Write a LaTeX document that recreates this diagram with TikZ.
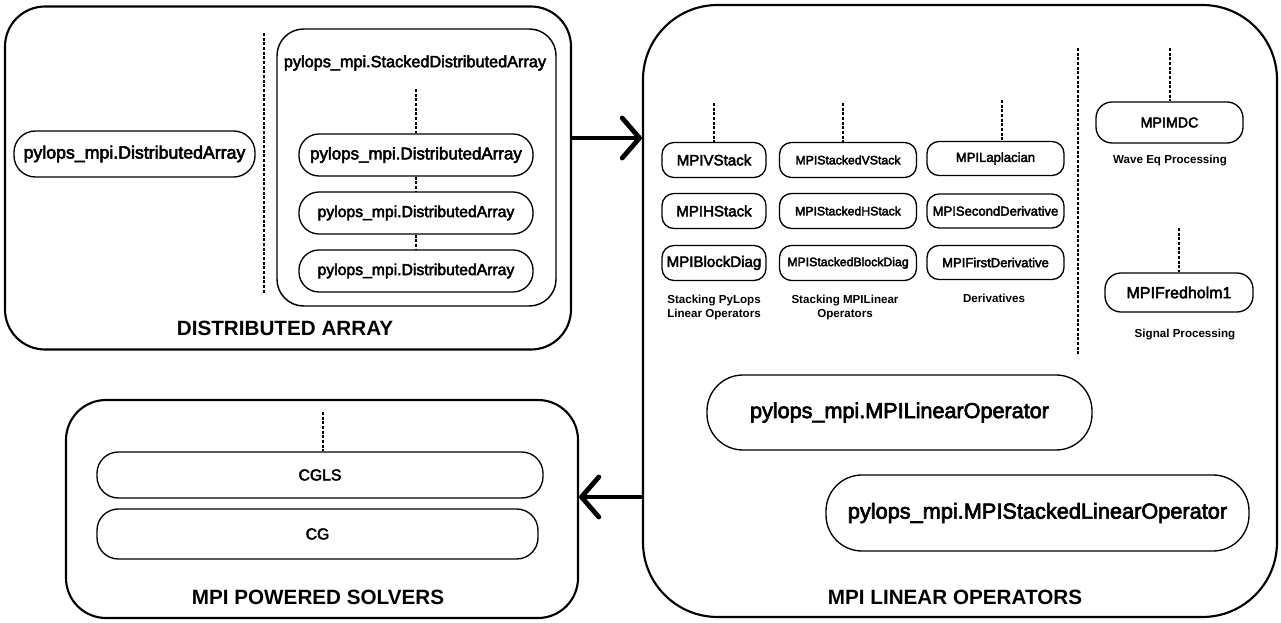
\documentclass[tikz,border=0pt]{standalone}
\usepackage{fontspec}
\setmainfont{Liberation Sans}
\newfontfamily\medfont[FakeBold=3]{Liberation Sans}
\usetikzlibrary{arrows.meta}

\newdimen\px \px=0.75pt
\newcommand\fsz[2]{\fontsize{#1pt}{#2pt}\selectfont}

\begin{document}
\begin{tikzpicture}[x=0.75pt, y=-0.75pt,
  panel/.style={draw, line width=1.6pt},
  pill/.style={draw, line width=1pt, inner sep=0pt},
  sepline/.style={line width=1.7pt, dash pattern=on 2.2pt off 1.3pt},
  flow/.style={line width=3.6pt, -{Straight Barb[length=13pt, width=30pt, round]}},
  title/.style={font={\fsz{15.5}{18}\bfseries}},
  caption/.style={font={\fsz{8.7}{10.5}\bfseries}, align=center}]

  \useasboundingbox (0,0) rectangle (1281,623);

  % the three panels
  \node[panel, rounded corners=30pt, minimum width=566\px, minimum height=343\px] (distarr) at (288,178) {};
  \node[panel, rounded corners=56pt, minimum width=634\px, minimum height=612\px] (linops) at (960,311) {};
  \node[panel, rounded corners=30pt, minimum width=512\px, minimum height=218\px] (solvers) at (322,509) {};

  % distributed array panel
  \node[pill, rounded corners=16pt, minimum width=241\px, minimum height=46\px,
        font={\medfont\fsz{13.3}{16}}] (da) at (134.5,154) {pylops\_mpi.DistributedArray};
  \draw[sepline] (264,33) -- (264,293);

  \draw[line width=1.1pt, rounded corners=20pt] (277,29) rectangle (556,306);
  \node[font={\medfont\fsz{12.2}{14}}] (sda) at (415,63) {pylops\_mpi.StackedDistributedArray};
  \coordinate (sdatop) at (416,89);
  \node[pill, rounded corners=15pt, minimum width=234\px, minimum height=42\px,
        font={\medfont\fsz{12.7}{15}}] (sda1) at (416,155) {pylops\_mpi.DistributedArray};
  \node[pill, rounded corners=15pt, minimum width=234\px, minimum height=42\px,
        font={\medfont\fsz{11.8}{14}}] (sda2) at (416,213) {pylops\_mpi.DistributedArray};
  \node[pill, rounded corners=15pt, minimum width=234\px, minimum height=42\px,
        font={\medfont\fsz{11.8}{14}}] (sda3) at (416,271) {pylops\_mpi.DistributedArray};
  \draw[sepline] (sdatop) -- (sda1.north);
  \draw[sepline] (sda1.south) -- (sda2.north);
  \draw[sepline] (sda2.south) -- (sda3.north);

  \node[title] (datitle) at (285,328) {DISTRIBUTED ARRAY};

  % linear operators panel, the three columns
  \foreach \nm/\yy/\txt in {vs/160/MPIVStack, hs/211/MPIHStack, bd/263/MPIBlockDiag}{
    \node[pill, rounded corners=9pt, minimum width=104\px, minimum height=35\px,
          font={\medfont\fsz{11.3}{13}}] (\nm) at (714,\yy) {\txt};
  }
  \foreach \nm/\yy/\txt in {svs/160/MPIStackedVStack, shs/211/MPIStackedHStack, sbd/263/MPIStackedBlockDiag}{
    \node[pill, rounded corners=9pt, minimum width=137\px, minimum height=35\px,
          font={\medfont\fsz{9.2}{11}}] (\nm) at (848,\yy) {\txt};
  }
  \foreach \nm/\yy/\txt in {lap/158.5/MPILaplacian, sder/211/MPISecondDerivative, fder/262.5/MPIFirstDerivative}{
    \node[pill, rounded corners=9pt, minimum width=137\px, minimum height=34\px,
          font={\medfont\fsz{9.8}{11}}] (\nm) at (995.5,\yy) {\txt};
  }
  \coordinate (vstop) at (714,103);
  \coordinate (svstop) at (843,103);
  \coordinate (laptop) at (1002,100);
  \draw[sepline] (vstop) -- (vs.north);
  \draw[sepline] (svstop) -- (svstop |- svs.north);
  \draw[sepline] (laptop) -- (laptop |- lap.north);

  \node[caption] (cap1) at (714,308) {Stacking PyLops\\Linear Operators};
  \node[caption] (cap2) at (845,308) {Stacking MPILinear\\Operators};
  \node[caption] (cap3) at (994,298) {Derivatives};

  \draw[sepline] (1078,48) -- (1078,355);

  % special operators
  \node[pill, rounded corners=12pt, minimum width=147\px, minimum height=41\px,
        font={\medfont\fsz{10.7}{13}}] (mdc) at (1169.5,122.5) {MPIMDC};
  \node[pill, rounded corners=12pt, minimum width=148\px, minimum height=39\px,
        font={\medfont\fsz{12}{14}}] (fred) at (1179,292.5) {MPIFredholm1};
  \coordinate (mdctop) at (1170,48);
  \coordinate (fredtop) at (1179,228);
  \draw[sepline] (mdctop) -- (mdctop |- mdc.north);
  \draw[sepline] (fredtop) -- (fredtop |- fred.north);
  \node[caption] (cap4) at (1170,161) {Wave Eq Processing};
  \node[caption] (cap5) at (1185,335) {Signal Processing};

  % base classes
  \node[pill, rounded corners=27pt, minimum width=385\px, minimum height=75\px,
        font={\medfont\fsz{16.2}{19}}] (linop) at (899.5,412.5) {pylops\_mpi.MPILinearOperator};
  \node[pill, rounded corners=27pt, minimum width=423\px, minimum height=76\px,
        font={\medfont\fsz{16.3}{19}}] (slinop) at (1037.5,513) {pylops\_mpi.MPIStackedLinearOperator};

  \node[title] (lotitle) at (955,597) {MPI LINEAR OPERATORS};

  % solvers panel
  \node[pill, rounded corners=16pt, minimum width=446\px, minimum height=46\px,
        font={\medfont\fsz{11.8}{14}}] (cgls) at (320,475) {CGLS};
  \node[pill, rounded corners=16pt, minimum width=441\px, minimum height=50\px,
        font={\medfont\fsz{11.8}{14}}] (cg) at (317.5,534) {CG};
  \coordinate (cglstop) at (323,412);
  \draw[sepline] (cglstop) -- (cglstop |- cgls.north);

  \node[title] (sotitle) at (318,597) {MPI POWERED SOLVERS};

  % flow between the panels
  \draw[flow] (distarr.east |- 0,138) -- (linops.west |- 0,138);
  \draw[flow] (linops.west |- 0,497) -- (solvers.east |- 0,497);

\end{tikzpicture}
\end{document}
